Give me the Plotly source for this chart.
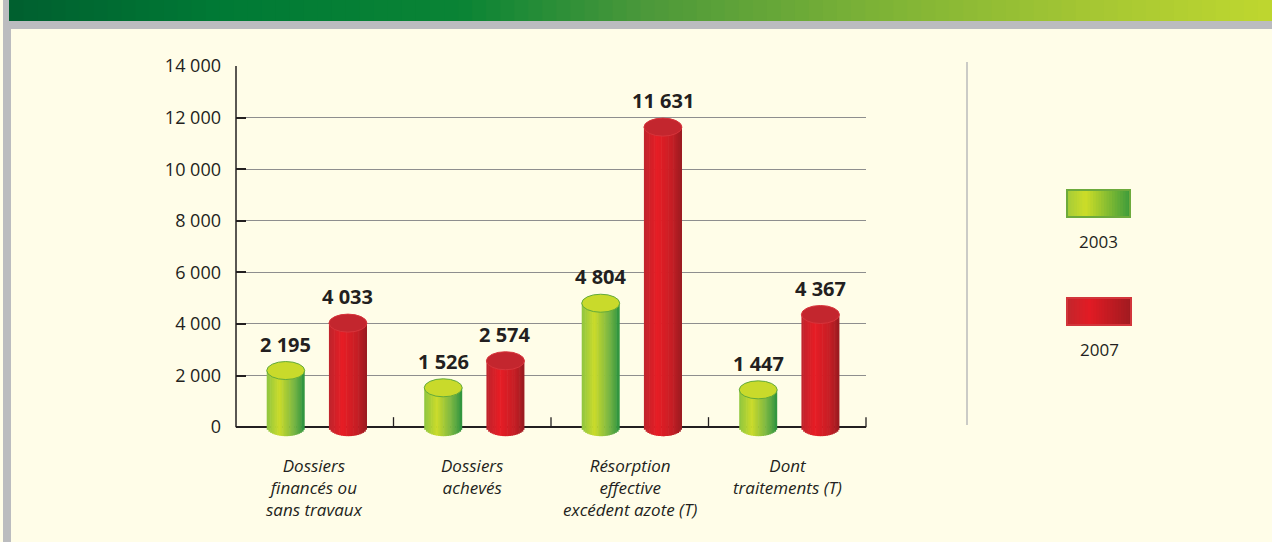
import math
import plotly.graph_objects as go

# ---------------- data ----------------
categories = [
    "Dossiers<br>financés ou<br>sans travaux",
    "Dossiers<br>achevés",
    "Résorption<br>effective<br>excédent azote (T)",
    "Dont<br>traitements (T)",
]
series_names = ["2003", "2007"]
values_2003 = [2195, 1526, 4804, 1447]
values_2007 = [4033, 2574, 11631, 4367]
value_labels_2003 = ["2 195", "1 526", "4 804", "1 447"]
value_labels_2007 = ["4 033", "2 574", "11 631", "4 367"]
y_tick_values = [0, 2000, 4000, 6000, 8000, 10000, 12000, 14000]
y_tick_labels = ["0", "2 000", "4 000", "6 000", "8 000", "10 000", "12 000", "14 000"]

# ---------------- geometry / style ----------------
W, H = 1272, 542
PL, PR, PT, PB = 236, 866, 66, 438          # plot area in pixels
Y_MIN, Y_MAX = -420, 14000
PX_PER_UNIT = (PB - PT) / (Y_MAX - Y_MIN)
PX_PER_CAT = (PR - PL) / 4.0

TEXT = "#231F20"
CREAM = "#FFFDE8"
GREY = "#BBBCBF"
FONT = "Open Sans, Noto Sans, sans-serif"

bar_w = 38 / PX_PER_CAT
offsets = [-0.305, 0.09]
ry = 9 / PX_PER_UNIT

green_stops = [(0.0, "#8EC641"), (0.33, "#CBDB2A"), (0.7, "#7DB843"), (1.0, "#2C933F")]
red_stops = [(0.0, "#BE252C"), (0.35, "#E71D25"), (0.75, "#C41E25"), (1.0, "#991B1F")]
top_fill = ["#C9DA2B", "#C3262E"]
top_line = ["#62AA3B", "#D7343B"]
banner_stops = [(0.0, "#005F2F"), (0.17, "#007A35"), (0.36, "#0A8435"), (0.5, "#4A983A"),
                (0.7, "#80B436"), (0.86, "#A6C733"), (1.0, "#BFD72F")]
legend_green = [(0.0, "#A2CB3A"), (0.3, "#CDDD28"), (1.0, "#3A9A3C")]
legend_red = [(0.0, "#C1272D"), (0.35, "#E21B24"), (1.0, "#9E1B20")]


def hex2rgb(h):
    h = h.lstrip("#")
    return tuple(int(h[i:i + 2], 16) for i in (0, 2, 4))


def interp(stops, t):
    for (t0, c0), (t1, c1) in zip(stops[:-1], stops[1:]):
        if t0 <= t <= t1:
            f = (t - t0) / (t1 - t0) if t1 > t0 else 0
            a, b = hex2rgb(c0), hex2rgb(c1)
            return "rgb(%d,%d,%d)" % tuple(round(a[k] + (b[k] - a[k]) * f) for k in range(3))
    return stops[-1][1]


def pxx(px):
    return (px - PL) / (PR - PL)


def pxy(py):
    return (PB - py) / (PB - PT)


fig = go.Figure()
xs = list(range(len(categories)))
series_values = [values_2003, values_2007]
series_labels = [value_labels_2003, value_labels_2007]
series_stops = [green_stops, red_stops]

N = 22
for s, vals in enumerate(series_values):
    for i in range(N):
        mid = (i + 0.5) / N
        u = 2 * mid - 1
        depth = ry * math.sqrt(max(0.0, 1 - u * u))
        sw = bar_w / N
        fig.add_trace(go.Bar(
            x=xs,
            y=[v + depth for v in vals],
            base=[-depth] * len(vals),
            offset=offsets[s] + i * sw,
            width=sw * (1.35 if i < N - 1 else 1.0),
            marker=dict(color=interp(series_stops[s], mid), line=dict(width=0)),
            name=series_names[s],
            showlegend=False,
            hoverinfo="skip",
        ))

shapes = []
# cylinder tops
for s, vals in enumerate(series_values):
    for xi, v in zip(xs, vals):
        shapes.append(dict(type="circle", xref="x", yref="y",
                           x0=xi + offsets[s], x1=xi + offsets[s] + bar_w,
                           y0=v - ry, y1=v + ry,
                           fillcolor=top_fill[s], line=dict(color=top_line[s], width=1),
                           layer="above"))

# y axis line (from 0 to top)
shapes.append(dict(type="line", xref="paper", yref="y", x0=0, x1=0, y0=0, y1=Y_MAX,
                   line=dict(color=TEXT, width=1.5), layer="above"))
# category boundary ticks
for k in range(len(categories)):
    xp = (k + 1) / len(categories)
    shapes.append(dict(type="line", xref="paper", yref="y", x0=xp, x1=xp, y0=0,
                       y1=10 / PX_PER_UNIT, line=dict(color=TEXT, width=1.3), layer="above"))

# page decoration: grey frame + banner
shapes.append(dict(type="rect", xref="paper", yref="paper", x0=pxx(3), x1=pxx(11),
                   y0=pxy(H), y1=pxy(0), fillcolor=GREY, line=dict(width=0), layer="below"))
shapes.append(dict(type="rect", xref="paper", yref="paper", x0=pxx(3), x1=pxx(W),
                   y0=pxy(29), y1=pxy(21), fillcolor=GREY, line=dict(width=0), layer="below"))
NB = 90
bx0, bx1 = 9, W
for i in range(NB):
    a = bx0 + (bx1 - bx0) * i / NB
    b = bx0 + (bx1 - bx0) * (i + 1) / NB
    shapes.append(dict(type="rect", xref="paper", yref="paper", x0=pxx(a), x1=pxx(b + 1.5),
                       y0=pxy(21), y1=pxy(0), fillcolor=interp(banner_stops, (i + 0.5) / NB),
                       line=dict(width=0), layer="below"))

# legend separator
shapes.append(dict(type="line", xref="paper", yref="paper", x0=pxx(967), x1=pxx(967),
                   y0=pxy(425), y1=pxy(62), line=dict(color="#CBCBC6", width=2)))

# legend swatches
legend_boxes = [(1066, 1131, 189, 218, legend_green, "#6DAA3C"),
                (1066, 1132, 297, 326, legend_red, "#D2353B")]
NL = 24
for (x0, x1, y0, y1, stops, border) in legend_boxes:
    for i in range(NL):
        a = x0 + (x1 - x0) * i / NL
        b = x0 + (x1 - x0) * (i + 1) / NL
        if i == NL - 1:
            b -= 1.5
        shapes.append(dict(type="rect", xref="paper", yref="paper", x0=pxx(a), x1=pxx(b + 1.5),
                           y0=pxy(y1), y1=pxy(y0), fillcolor=interp(stops, (i + 0.5) / NL),
                           line=dict(width=0)))
    shapes.append(dict(type="rect", xref="paper", yref="paper", x0=pxx(x0 + 1), x1=pxx(x1 - 1),
                       y0=pxy(y1 - 1), y1=pxy(y0 + 1), fillcolor="rgba(0,0,0,0)",
                       line=dict(color=border, width=2)))

annotations = []
# value labels
for s, vals in enumerate(series_values):
    for xi, v, lab in zip(xs, vals, series_labels[s]):
        annotations.append(dict(x=xi + offsets[s] + bar_w / 2, y=v, xref="x", yref="y",
                                text="<b>%s</b>" % lab, showarrow=False, yanchor="bottom",
                                xanchor="center", yshift=11,
                                font=dict(family=FONT, size=20, color=TEXT)))
# category labels
for xi, cat in zip(xs, categories):
    annotations.append(dict(x=xi, y=0, xref="x", yref="paper", text="<i>%s</i>" % cat,
                            showarrow=False, yanchor="top", xanchor="center", yshift=-14,
                            font=dict(family=FONT, size=17, color=TEXT)))
# legend labels
for name, (x0, x1, y0, y1, _, _) in zip(series_names, legend_boxes):
    annotations.append(dict(x=pxx((x0 + x1) / 2), y=pxy(y1 + 10), xref="paper", yref="paper",
                            text=name, showarrow=False, yanchor="top", xanchor="center",
                            font=dict(family=FONT, size=17, color=TEXT)))

fig.update_layout(
    width=W, height=H,
    margin=dict(l=PL, r=W - PR, t=PT, b=H - PB, pad=0),
    paper_bgcolor=CREAM, plot_bgcolor="rgba(0,0,0,0)",
    barmode="overlay",
    showlegend=False,
    shapes=shapes,
    annotations=annotations,
    xaxis=dict(range=[-0.5, len(categories) - 0.5], showgrid=False, zeroline=False,
               showline=False, showticklabels=False, ticks="", fixedrange=True),
    yaxis=dict(range=[Y_MIN, Y_MAX], tickvals=y_tick_values, ticktext=y_tick_labels,
               showgrid=True, gridcolor="#8E8E8E", gridwidth=1,
               zeroline=True, zerolinecolor=TEXT, zerolinewidth=1.5,
               showline=False, ticks="inside", ticklen=10, tickwidth=1.5, tickcolor=TEXT,
               ticklabelstandoff=14,
               tickfont=dict(family=FONT, size=18, color=TEXT), fixedrange=True),
    font=dict(family=FONT, color=TEXT),
)

fig.write_html(
    "out.html",
    config={"displayModeBar": False},
    post_script="document.body.style.margin='0';document.body.style.overflow='hidden';",
)
